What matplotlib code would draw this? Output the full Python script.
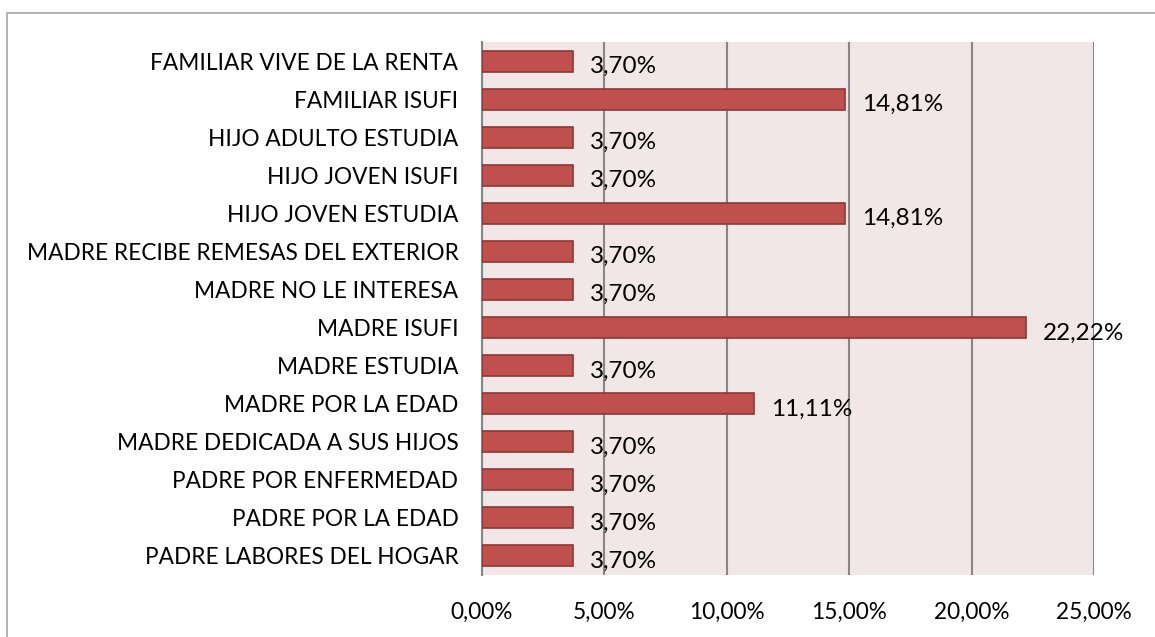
import matplotlib.pyplot as plt
from matplotlib.patches import Rectangle

# ---------------------------------------------------------
# DATA
# ---------------------------------------------------------

categories = [
    "FAMILIAR VIVE DE LA RENTA",
    "FAMILIAR ISUFI",
    "HIJO ADULTO ESTUDIA",
    "HIJO JOVEN ISUFI",
    "HIJO JOVEN ESTUDIA",
    "MADRE RECIBE REMESAS DEL EXTERIOR",
    "MADRE NO LE INTERESA",
    "MADRE ISUFI",
    "MADRE ESTUDIA",
    "MADRE POR LA EDAD",
    "MADRE DEDICADA A SUS HIJOS",
    "PADRE POR ENFERMEDAD",
    "PADRE POR LA EDAD",
    "PADRE LABORES DEL HOGAR",
]

values = [3.70, 14.81, 3.70, 3.70, 14.81, 3.70, 3.70,
          22.22, 3.70, 11.11, 3.70, 3.70, 3.70, 3.70]

xticks = [0, 5, 10, 15, 20, 25]

# ---------------------------------------------------------
# PLOT
# ---------------------------------------------------------

plt.rcParams["font.family"] = ["Lato", "DejaVu Sans"]

fig = plt.figure(figsize=(11.55, 6.37), dpi=100)

# chart border
fig.patches.append(Rectangle((7 / 1155, -0.1), 1.2, 1 - 13 / 637 + 0.1,
                             transform=fig.transFigure, fill=False,
                             edgecolor="#A6A6A6", linewidth=1.2))

ax = fig.add_axes([482 / 1155, 1 - 575 / 637, 612 / 1155, 533 / 637])
ax.set_facecolor("#F2E7E7")

y = range(len(categories))
ax.barh(y, values, height=0.55, color="#C0504D", edgecolor="#8C3836",
        linewidth=1.2, zorder=3)

for yi, v in zip(y, values):
    ax.text(v + 0.7, yi + 0.14, f"{v:.2f}%".replace(".", ","),
            va="center", ha="left", fontsize=17.5, color="black", zorder=4)

ax.set_xlim(0, 25)
ax.set_ylim(len(categories) - 0.5, -0.5)
ax.set_xticks(xticks)
ax.set_xticklabels([f"{t:.2f}%".replace(".", ",") for t in xticks])
ax.set_yticks(list(y))
ax.set_yticklabels(categories)

ax.grid(axis="x", color="#868686", linewidth=1.5, zorder=1)
ax.tick_params(axis="x", length=0, pad=19, labelsize=16.3)
ax.tick_params(axis="y", length=0, pad=17, labelsize=16.3)

for side in ["top", "right", "bottom"]:
    ax.spines[side].set_visible(False)
ax.spines["left"].set_color("#868686")
ax.spines["left"].set_linewidth(1.5)

fig.savefig("out.png", dpi=100)
